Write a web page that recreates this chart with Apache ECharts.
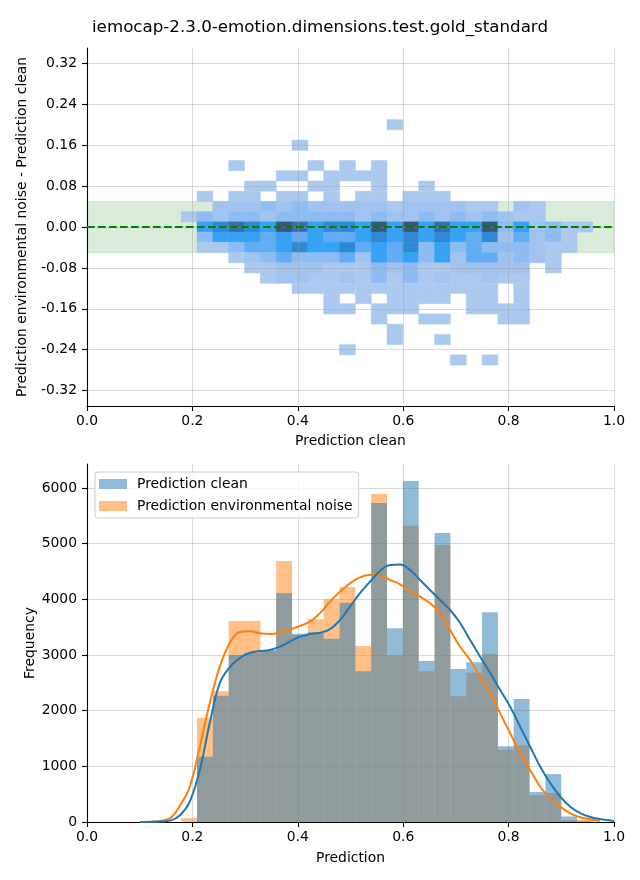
<!DOCTYPE html>
<html><head><meta charset="utf-8">
<script src="https://cdn.jsdelivr.net/npm/echarts@6/dist/echarts.min.js"></script>
<style>html,body{margin:0;padding:0;background:#fff}#c{width:640px;height:880px}</style>
</head><body><div id="c"></div>
<script>
const titleText = 'iemocap-2.3.0-emotion.dimensions.test.gold_standard';

// shared bins of "Prediction clean" (x) used by both panels
const binStart = 0.1787;
const binWidth = 0.03005;
const binCount = 26;

// 2D histogram: y bin centres (difference) and per-row cell counts (colour level 1..8)
const diffBinCenters = [0.20,0.18,0.16,0.14,0.12,0.10,0.08,0.06,0.04,0.02,0.00,-0.02,-0.04,-0.06,-0.08,-0.10,-0.12,-0.14,-0.16,-0.18,-0.20,-0.22,-0.24,-0.26];
const diffBinHeight = 0.02;
const cellCounts = [
  [0,0,0,0,0,0,0,0,0,0,0,0,0,1,0,0,0,0,0,0,0,0,0,0,0,0],
  [0,0,0,0,0,0,0,0,0,0,0,0,0,0,0,0,0,0,0,0,0,0,0,0,0,0],
  [0,0,0,0,0,0,0,1,0,0,0,0,0,0,0,0,0,0,0,0,0,0,0,0,0,0],
  [0,0,0,0,0,0,0,0,0,0,0,0,0,0,0,0,0,0,0,0,0,0,0,0,0,0],
  [0,0,0,1,0,0,0,0,1,0,1,0,1,0,0,0,0,0,0,0,0,0,0,0,0,0],
  [0,0,0,0,0,0,1,1,0,1,1,1,1,0,0,0,0,0,0,0,0,0,0,0,0,0],
  [0,0,0,0,1,1,0,0,1,1,0,0,1,0,0,1,0,0,0,0,0,0,0,0,0,0],
  [0,1,0,1,1,0,1,1,0,1,0,1,1,0,1,1,1,0,0,0,0,0,0,0,0,0],
  [0,0,2,2,2,3,2,3,2,2,2,2,2,1,2,2,2,2,1,1,0,2,1,0,0,0],
  [1,3,2,3,3,2,3,3,3,3,3,2,3,2,2,3,2,3,2,3,2,1,1,0,0,0],
  [0,5,6,7,6,5,8,7,5,6,6,5,8,5,8,5,7,5,5,8,3,5,2,3,1,1],
  [0,3,5,5,5,4,5,4,5,4,4,5,6,5,6,5,6,5,4,6,2,4,2,3,1,0],
  [0,1,1,3,4,4,5,6,5,5,6,4,5,4,6,3,5,3,4,3,3,3,2,1,1,0],
  [0,0,0,1,2,3,4,3,3,3,4,2,5,4,5,3,5,2,4,4,2,3,2,1,0,0],
  [0,0,0,0,1,1,2,2,2,1,1,1,3,2,3,1,1,2,2,2,2,2,0,1,0,0],
  [0,0,0,0,0,1,2,2,1,1,2,1,3,1,3,1,2,1,1,2,1,1,0,0,0,0],
  [0,0,0,0,0,0,0,1,1,1,1,1,1,1,1,1,1,1,1,1,0,1,0,0,0,0],
  [0,0,0,0,0,0,0,0,0,1,0,1,0,1,1,1,1,0,1,1,0,1,0,0,0,0],
  [0,0,0,0,0,0,0,0,0,1,1,0,1,1,1,0,0,0,1,1,1,1,0,0,0,0],
  [0,0,0,0,0,0,0,0,0,0,0,0,1,0,0,1,1,0,0,0,1,1,0,0,0,0],
  [0,0,0,0,0,0,0,0,0,0,0,0,0,1,0,0,0,0,0,0,0,0,0,0,0,0],
  [0,0,0,0,0,0,0,0,0,0,0,0,0,1,0,0,1,0,0,0,0,0,0,0,0,0],
  [0,0,0,0,0,0,0,0,0,0,1,0,0,0,0,0,0,0,0,0,0,0,0,0,0,0],
  [0,0,0,0,0,0,0,0,0,0,0,0,0,0,0,0,0,1,0,1,0,0,0,0,0,0]
];
const levelColors = ['#abc8ee','#a0c3ef','#8dbcf3','#62acf5','#35a2f5','#2d89d6','#386ea6','#3a5578'];
const bandLow = -0.05, bandHigh = 0.05;
const refLineValue = 0;

// Histograms (frequency per bin)
const histClean = [0,1173,2270,3000,3040,3090,4110,3380,3410,3290,3940,2710,5730,3480,6125,2890,5190,2750,2870,3770,1360,2210,540,860,100,15];
const histNoise = [70,1874,2350,3611,3611,3070,4690,3360,3640,4000,4220,3160,5890,2990,5320,2710,4975,2260,2680,3020,1300,1380,485,520,35,45];

// KDE curves
const kdeX = [0.101,0.120,0.139,0.158,0.177,0.195,0.214,0.233,0.252,0.271,0.290,0.309,0.328,0.347,0.366,0.385,0.404,0.423,0.442,0.461,0.480,0.499,0.518,0.537,0.556,0.575,0.594,0.613,0.632,0.651,0.670,0.689,0.708,0.727,0.746,0.765,0.784,0.803,0.822,0.841,0.860,0.879,0.898,0.917,0.936,0.955,0.973,1.0];
const kdeClean = [0,2,8,25,125,365,934,1778,2497,2784,2946,3041,3070,3090,3150,3240,3330,3377,3400,3465,3628,3868,4110,4317,4510,4617,4625,4527,4347,4168,3988,3808,3574,3269,2970,2676,2371,2072,1712,1353,993,700,455,275,160,90,54,20];
const kdeNoise = [0,5,20,70,305,634,1353,2137,2790,3215,3413,3425,3389,3377,3400,3461,3521,3598,3749,3958,4137,4287,4395,4437,4431,4347,4270,4150,4048,3928,3749,3449,3149,2910,2610,2312,1952,1593,1234,934,634,425,275,156,84,48,20,null];

const yTicksTop = [-0.32,-0.24,-0.16,-0.08,0,0.08,0.16,0.24,0.32];
const yTicksBottom = [0,1000,2000,3000,4000,5000,6000];

const FONT = 'DejaVu Sans';
const FS = 13.9;

const edges = [];
for (let i = 0; i <= binCount; i++) edges.push(binStart + i * binWidth);

const cellData = [];
cellCounts.forEach((row, r) => {
  row.forEach((c, i) => {
    if (c > 0) cellData.push([edges[i], edges[i+1], diffBinCenters[r] - diffBinHeight/2, diffBinCenters[r] + diffBinHeight/2, c]);
  });
});
const cleanData = histClean.map((v, i) => [edges[i], edges[i+1], v]);
const noiseData = histNoise.map((v, i) => [edges[i], edges[i+1], v]);
const kdeCleanData = kdeX.map((x, i) => [x, kdeClean[i]]).filter(d => d[1] !== null);
const kdeNoiseData = kdeX.map((x, i) => [x, kdeNoise[i]]).filter(d => d[1] !== null);

function rectRender(fillFn) {
  return function (params, api) {
    const p0 = api.coord([api.value(0), api.value(3)]);
    const p1 = api.coord([api.value(1), api.value(2)]);
    const fill = fillFn(api);
    return {type: 'rect', shape: {x: p0[0], y: p0[1], width: p1[0] - p0[0], height: p1[1] - p0[1]},
      style: {fill: fill, stroke: fill, lineWidth: 0.5}};
  };
}
function barRender(color) {
  return function (params, api) {
    const p0 = api.coord([api.value(0), api.value(2)]);
    const p1 = api.coord([api.value(1), 0]);
    return {type: 'rect', shape: {x: p0[0], y: p0[1], width: p1[0] - p0[0], height: p1[1] - p0[1]},
      style: {fill: color, opacity: 0.5}};
  };
}

const axisLine = {show: true, onZero: false, lineStyle: {color: '#000', width: 1.1}};
const axisTick = {show: true, length: 5, lineStyle: {color: '#000', width: 1.1}};
const gridLine = {show: true, lineStyle: {color: 'rgba(160,160,160,0.4)', width: 1}};
const lbl = {fontFamily: FONT, fontSize: FS, color: '#000'};

const chart = echarts.init(document.getElementById('c'), null, {renderer: 'canvas'});
chart.setOption({
  backgroundColor: '#fff',
  animation: false,
  title: {text: titleText, left: 'center', top: 14, textStyle: {fontFamily: FONT, fontSize: 16.7, fontWeight: 'normal', color: '#000'}},
  grid: [
    {left: 87, right: 26, top: 48, height: 358},
    {left: 87, right: 26, top: 464, height: 358}
  ],
  xAxis: [
    {type: 'value', gridIndex: 0, min: 0, max: 1, interval: 0.2, z: 3,
      name: 'Prediction clean', nameLocation: 'middle', nameGap: 28, nameTextStyle: lbl,
      axisLine: axisLine, axisTick: axisTick, splitLine: gridLine,
      axisLabel: Object.assign({margin: 8, formatter: v => v.toFixed(1)}, lbl)},
    {type: 'value', gridIndex: 1, min: 0, max: 1, interval: 0.2,
      name: 'Prediction', nameLocation: 'middle', nameGap: 29, nameTextStyle: lbl,
      axisLine: axisLine, axisTick: axisTick, splitLine: gridLine,
      axisLabel: Object.assign({margin: 8, formatter: v => v.toFixed(1)}, lbl)}
  ],
  yAxis: [
    {type: 'value', gridIndex: 0, min: -0.35, max: 0.35, z: 3,
      name: 'Prediction environmental noise - Prediction clean', nameLocation: 'middle', nameGap: 58, nameMoveOverlap: false, nameTextStyle: lbl,
      axisLine: axisLine, axisTick: Object.assign({customValues: yTicksTop}, axisTick), splitLine: gridLine,
      axisLabel: Object.assign({margin: 10, customValues: yTicksTop, formatter: v => v.toFixed(2)}, lbl)},
    {type: 'value', gridIndex: 1, min: 0, max: 6431,
      name: 'Frequency', nameLocation: 'middle', nameGap: 50, nameMoveOverlap: false, nameTextStyle: lbl,
      axisLine: axisLine, axisTick: Object.assign({customValues: yTicksBottom}, axisTick), splitLine: gridLine,
      axisLabel: Object.assign({margin: 10, customValues: yTicksBottom, formatter: v => String(Math.round(v))}, lbl)}
  ],
  legend: {
    orient: 'vertical', left: 95, top: 472, icon: 'rect', selectedMode: false,
    data: [
      {name: 'Prediction clean', itemStyle: {color: '#8fbbd9', opacity: 1}},
      {name: 'Prediction environmental noise', itemStyle: {color: '#ffbf86', opacity: 1}}
    ],
    itemWidth: 28, itemHeight: 10, itemGap: 8,
    textStyle: {fontFamily: FONT, fontSize: FS, color: '#000', padding: [0, 0, 0, 5]},
    backgroundColor: 'rgba(255,255,255,0.8)', borderColor: '#cccccc', borderWidth: 1, borderRadius: 3,
    padding: [5, 6, 5, 4]
  },
  series: [
    {type: 'line', xAxisIndex: 0, yAxisIndex: 0, z: 1, data: [], silent: true,
      markArea: {silent: true, itemStyle: {color: 'rgba(0,128,0,0.15)', borderColor: 'rgba(0,128,0,0.12)', borderWidth: 1},
        data: [[{yAxis: bandLow}, {yAxis: bandHigh}]]}},
    {type: 'custom', name: 'cells', xAxisIndex: 0, yAxisIndex: 0, z: 2, data: cellData,
      encode: {x: [0, 1], y: [2, 3]},
      renderItem: rectRender(api => levelColors[api.value(4) - 1])},
    {type: 'line', xAxisIndex: 0, yAxisIndex: 0, z: 10, data: [], silent: true,
      markLine: {silent: true, z: 10, symbol: ['none', 'none'], label: {show: false},
        lineStyle: {color: '#008000', type: [7.7, 3.3], width: 2.1, opacity: 1}, data: [{yAxis: refLineValue}]}},
    {type: 'custom', name: 'Prediction environmental noise', xAxisIndex: 1, yAxisIndex: 1, z: 2,
      itemStyle: {color: '#ffbf86'}, data: noiseData, encode: {x: [0, 1], y: 2},
      renderItem: barRender('#ff7f0e')},
    {type: 'custom', name: 'Prediction clean', xAxisIndex: 1, yAxisIndex: 1, z: 2,
      itemStyle: {color: '#8fbbd9'}, data: cleanData, encode: {x: [0, 1], y: 2},
      renderItem: barRender('#1f77b4')},
    {type: 'line', name: 'kde noise', xAxisIndex: 1, yAxisIndex: 1, z: 4, data: kdeNoiseData, smooth: 0.4,
      showSymbol: false, symbol: 'none', lineStyle: {color: '#ff7f0e', width: 2}, itemStyle: {color: '#ff7f0e'}},
    {type: 'line', name: 'kde clean', xAxisIndex: 1, yAxisIndex: 1, z: 5, data: kdeCleanData, smooth: 0.4,
      showSymbol: false, symbol: 'none', lineStyle: {color: '#1f77b4', width: 2}, itemStyle: {color: '#1f77b4'}}
  ]
});
</script></body></html>
